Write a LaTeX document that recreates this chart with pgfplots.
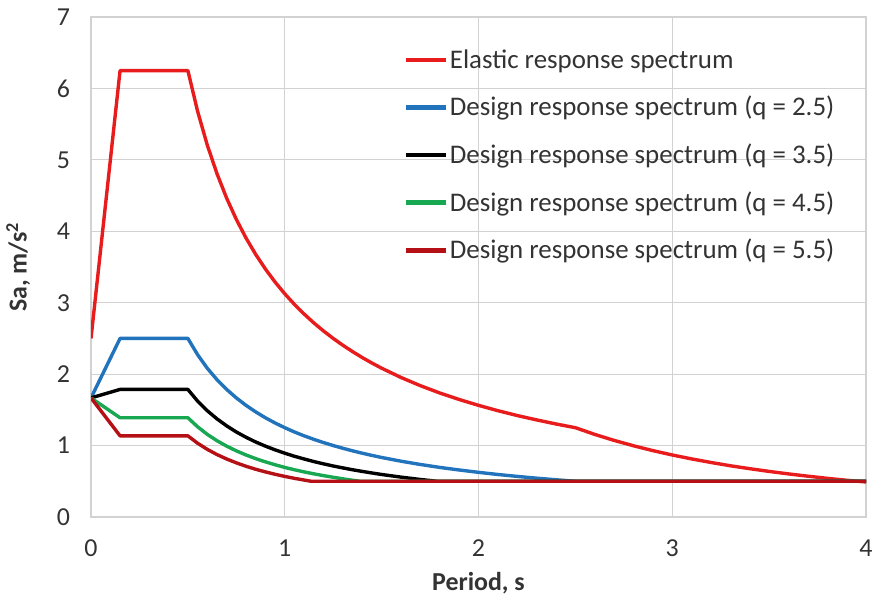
\documentclass[border=0pt]{standalone}
\usepackage{pgfplots}
\pgfplotsset{compat=1.18}
\usepackage{fontspec}
\setmainfont{Carlito}
\definecolor{elastic}{RGB}{232,28,28}
\definecolor{qa}{RGB}{33,115,188}
\definecolor{qc}{RGB}{24,168,82}
\definecolor{qd}{RGB}{180,16,22}
\definecolor{gridgray}{RGB}{210,210,210}
\begin{document}
\begin{tikzpicture}
\begin{axis}[
  scale only axis, width=387.5bp, height=250bp,
  xmin=0, xmax=4, ymin=0, ymax=7,
  xtick={0,1,2,3,4}, ytick={0,1,2,3,4,5,6,7},
  grid=major, major grid style={gridgray, line width=0.6bp},
  axis line style={gridgray, line width=0.6bp},
  major tick length=0pt,
  /pgf/number format/assume math mode=true,
  tick label style={font=\fontsize{13}{15}\selectfont, text=black!80},
  xticklabel style={yshift=-8bp},
  yticklabel style={xshift=-7bp},
  xlabel={Period, s}, ylabel={Sa, m/s\textsuperscript{2}},
  every axis x label/.style={at={(axis description cs:0.5,-0.132)}, anchor=center,
    font=\bfseries\fontsize{13}{15}\selectfont, text=black!80},
  every axis y label/.style={at={(axis description cs:-0.094,0.5)}, anchor=center, rotate=90,
    font=\bfseries\fontsize{13}{15}\selectfont, text=black!80},
  legend style={draw=none, fill=none, at={(axis description cs:0.395,0.948)}, anchor=north west,
    font=\fontsize{13.5}{15}\selectfont, text=black!80, row sep=10.5bp, nodes={inner sep=1bp}},
  legend cell align=left,
  legend image code/.code={\draw[#1, line width=2.2bp] (0bp,0bp) -- (20bp,0bp);},
  every axis plot/.append style={line width=1.7bp, line join=round},
]
\addplot[elastic] coordinates {
(0,2.5) (0.15,6.25) (0.5,6.25) (0.55,5.682) (0.6,5.208) (0.65,4.808) (0.7,4.464) (0.75,4.167)
(0.8,3.906) (0.85,3.676) (0.9,3.472) (0.95,3.289) (1.0,3.125) (1.05,2.976) (1.1,2.841)
(1.15,2.717) (1.2,2.604) (1.25,2.5) (1.3,2.404) (1.35,2.315) (1.4,2.232) (1.45,2.155)
(1.5,2.083) (1.6,1.953) (1.7,1.838) (1.8,1.736) (1.9,1.645) (2.0,1.563) (2.1,1.488)
(2.2,1.420) (2.3,1.359) (2.4,1.302) (2.5,1.25) (2.6,1.156) (2.7,1.072) (2.8,0.997)
(2.9,0.929) (3.0,0.868) (3.1,0.813) (3.2,0.763) (3.3,0.717) (3.4,0.676) (3.5,0.638)
(3.6,0.603) (3.7,0.571) (3.8,0.541) (3.9,0.514) (4.0,0.49)};
\addlegendentry{Elastic response spectrum}
\addplot[qa] coordinates {
(0,1.667) (0.15,2.5) (0.5,2.5) (0.55,2.273) (0.6,2.083) (0.65,1.923) (0.7,1.786) (0.75,1.667)
(0.8,1.563) (0.85,1.471) (0.9,1.389) (0.95,1.316) (1.0,1.25) (1.05,1.190) (1.1,1.136)
(1.15,1.087) (1.2,1.042) (1.25,1.0) (1.3,0.962) (1.35,0.926) (1.4,0.893) (1.45,0.862)
(1.5,0.833) (1.6,0.781) (1.7,0.735) (1.8,0.694) (1.9,0.658) (2.0,0.625) (2.1,0.595)
(2.2,0.568) (2.3,0.543) (2.4,0.521) (2.5,0.5) (4.0,0.5)};
\addlegendentry{Design response spectrum (q = 2.5)}
\addplot[black] coordinates {
(0,1.667) (0.15,1.786) (0.5,1.786) (0.55,1.623) (0.6,1.488) (0.65,1.374) (0.7,1.276)
(0.75,1.190) (0.8,1.116) (0.85,1.050) (0.9,0.992) (0.95,0.940) (1.0,0.893) (1.05,0.850)
(1.1,0.812) (1.15,0.776) (1.2,0.744) (1.25,0.714) (1.3,0.687) (1.35,0.661) (1.4,0.638)
(1.45,0.616) (1.5,0.595) (1.6,0.558) (1.7,0.525) (1.786,0.5) (4.0,0.5)};
\addlegendentry{Design response spectrum (q = 3.5)}
\addplot[qc] coordinates {
(0,1.667) (0.15,1.389) (0.5,1.389) (0.55,1.263) (0.6,1.157) (0.65,1.068) (0.7,0.992)
(0.75,0.926) (0.8,0.868) (0.85,0.817) (0.9,0.772) (0.95,0.731) (1.0,0.694) (1.05,0.661)
(1.1,0.631) (1.15,0.604) (1.2,0.579) (1.25,0.556) (1.3,0.534) (1.35,0.514) (1.389,0.5)
(4.0,0.5)};
\addlegendentry{Design response spectrum (q = 4.5)}
\addplot[qd] coordinates {
(0,1.667) (0.15,1.136) (0.5,1.136) (0.55,1.033) (0.6,0.947) (0.65,0.874) (0.7,0.812)
(0.75,0.758) (0.8,0.710) (0.85,0.668) (0.9,0.631) (0.95,0.598) (1.0,0.568) (1.05,0.541)
(1.1,0.517) (1.136,0.5) (4.0,0.5)};
\addlegendentry{Design response spectrum (q = 5.5)}
\end{axis}
\pgfresetboundingbox
\path[use as bounding box] ([shift={(-45.5bp,-43bp)}]current axis.south west) rectangle ([shift={(4bp,8.5bp)}]current axis.north east);
\end{tikzpicture}
\end{document}
